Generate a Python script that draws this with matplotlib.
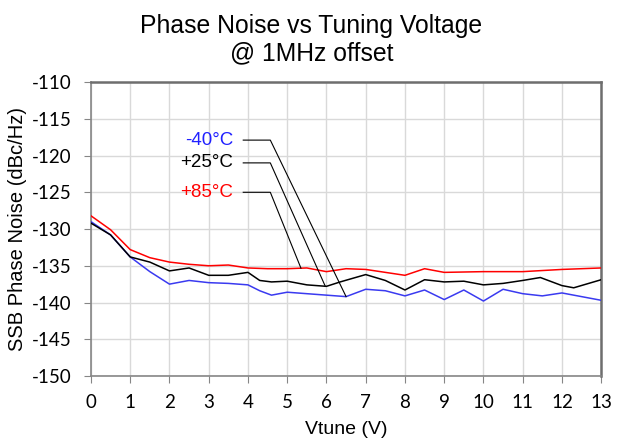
import numpy as np
import matplotlib.pyplot as plt

plt.rcParams['axes.unicode_minus'] = False

# Vtune (V) and SSB phase noise (dBc/Hz)
vt_m40 = [0, 0.5, 1.0, 1.5, 2.0, 2.5, 3.0, 3.5, 4.0, 4.3, 4.6, 5.0, 5.5, 6.0, 6.5,
          7.0, 7.5, 8.0, 8.5, 9.0, 9.5, 10.0, 10.5, 11.0, 11.5, 12.0, 12.5, 13.0]
pn_m40 = [-129.0, -130.8, -133.8, -135.8, -137.5, -137.0, -137.3, -137.4, -137.6, -138.4,
          -139.0, -138.6, -138.8, -139.0, -139.2, -138.2, -138.4, -139.1, -138.3, -139.6,
          -138.3, -139.8, -138.2, -138.8, -139.1, -138.7, -139.2, -139.7]

vt_25 = [0, 0.5, 1.0, 1.5, 2.0, 2.5, 3.0, 3.5, 4.0, 4.3, 4.6, 5.0, 5.5, 6.0, 6.35,
         7.0, 7.5, 8.0, 8.5, 9.0, 9.5, 10.0, 10.5, 11.0, 11.45, 12.0, 12.3, 13.0]
pn_25 = [-129.2, -130.8, -133.8, -134.5, -135.7, -135.3, -136.3, -136.3, -135.9, -137.0,
         -137.2, -137.1, -137.6, -137.8, -137.2, -136.2, -137.0, -138.3, -136.9, -137.2,
         -137.1, -137.6, -137.4, -137.0, -136.6, -137.7, -138.0, -136.9]

vt_85 = [0, 0.5, 1.0, 1.5, 2.0, 2.5, 3.0, 3.5, 4.0, 4.5, 5.0, 5.5, 6.0, 6.5,
         7.0, 7.5, 8.0, 8.5, 9.0, 10.0, 11.0, 12.0, 13.0]
pn_85 = [-128.2, -130.1, -132.8, -133.9, -134.5, -134.8, -135.0, -134.9, -135.3, -135.4,
         -135.4, -135.3, -135.8, -135.4, -135.5, -135.9, -136.3, -135.4, -135.9, -135.8,
         -135.8, -135.5, -135.3]

labels = ['-40°C', '+25°C', '+85°C']
colors = ['#3a3af0', 'black', '#ff0000']
label_col = ['#2020ff', 'black', '#ff0000']
# label text level (dBc/Hz) and where the leader meets the curve (V)
label_y = [-117.9, -121.0, -125.0]
leader_x = [6.5, 5.97, 5.35]

fig = plt.figure(figsize=(6.23, 4.4), dpi=100)
ax = fig.add_axes([0.146, 0.1455, 0.819, 0.668])

series = [(vt_m40, pn_m40), (vt_25, pn_25), (vt_85, pn_85)]
for (x, y), c in zip(series, colors):
    ax.plot(x, y, color=c, lw=1.1, zorder=3, solid_joinstyle='round')

for (x, y), lab, lc, ly, lx in zip(series, labels, label_col, label_y, leader_x):
    ey = np.interp(lx, x, y)
    ax.plot([3.88, 4.57, lx], [ly, ly, ey], color='black', lw=0.8, zorder=4)
    ax.text(3.62, ly, lab, color=lc, fontsize=13.5, family='Liberation Sans',
            ha='right', va='center')

ax.set_xlim(0, 13)
ax.set_ylim(-150, -110)
ax.set_xticks(range(0, 14))
ax.set_yticks(range(-150, -109, 5))
ax.grid(True, color='#d9d9d9', lw=1.0)
ax.set_axisbelow(True)
for s in ['left', 'bottom']:
    ax.spines[s].set_color('#868686')
    ax.spines[s].set_linewidth(1.2)
for s in ['top', 'right']:
    ax.spines[s].set_color('#6e6e6e')
    ax.spines[s].set_linewidth(1.8)
ax.tick_params(colors='#868686', length=5, labelcolor='black', labelsize=13.5)
ax.tick_params(axis='y', pad=9)
ax.tick_params(axis='x', pad=8)
for t in ax.get_xticklabels() + ax.get_yticklabels():
    t.set_family('Lato')

ax.set_xlabel('Vtune (V)', fontsize=14, family='Liberation Sans', labelpad=7)
ax.set_ylabel('SSB Phase Noise (dBc/Hz)', fontsize=14.5, family='Liberation Sans', labelpad=3)
fig.text(0.5, 0.968, 'Phase Noise vs Tuning Voltage\n@ 1MHz offset', ha='center', va='top',
         fontsize=17.8, family='Liberation Sans', linespacing=1.15)

fig.savefig('out.png', dpi=100)
